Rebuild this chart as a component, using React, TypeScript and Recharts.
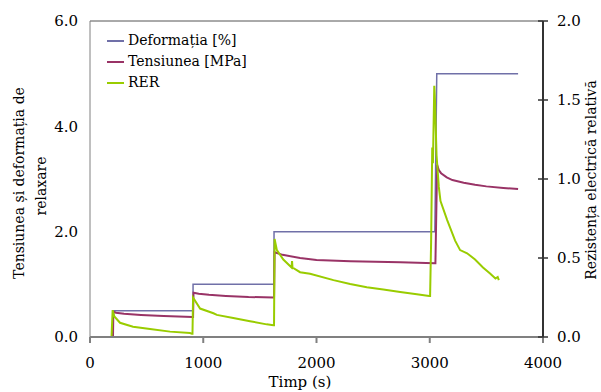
import React from "react"
import { LineChart, Line, XAxis, YAxis, ReferenceLine } from "recharts"

// time (s) / value pairs
const defTime = [0, 203, 203, 910, 910, 1625, 1625, 3045, 3062, 3780]
const defValue = [0, 0, 0.5, 0.5, 1.0, 1.0, 2.0, 2.0, 5.0, 5.0]

const tenTime = [
  0, 203, 206, 230, 300, 450, 650, 905,
  910, 914, 960, 1050, 1200, 1400, 1620,
  1625, 1630, 1700, 1855, 2000, 2300, 2740, 3045,
  3050, 3065, 3080, 3100, 3150, 3200, 3300, 3400, 3500, 3650, 3780,
]
const tenValue = [
  0, 0, 0.48, 0.46, 0.44, 0.42, 0.4, 0.38,
  0.38, 0.84, 0.82, 0.8, 0.78, 0.76, 0.75,
  0.75, 1.61, 1.56, 1.5, 1.46, 1.44, 1.42, 1.4,
  1.4, 3.27, 3.17, 3.11, 3.03, 2.98, 2.93, 2.89, 2.86, 2.83, 2.81,
]

const rerTime = [
  190, 200, 215, 265, 380, 530, 707, 883, 900,
  905, 910, 972, 1090, 1120, 1265, 1413, 1560, 1620,
  1625, 1630, 1650, 1707, 1780, 1784, 1788, 1855, 1943, 2150, 2297, 2444, 2590, 2739, 2886, 2995,
  3003, 3012, 3022, 3028, 3040, 3046, 3060, 3080, 3095, 3154, 3224, 3268, 3330, 3400, 3470, 3535, 3580, 3600, 3610,
]
const rerValue = [
  0, 0.17, 0.13, 0.09, 0.065, 0.05, 0.034, 0.025, 0.02,
  0.02, 0.25, 0.18, 0.15, 0.14, 0.12, 0.1, 0.08, 0.075,
  0.075, 0.62, 0.55, 0.49, 0.44, 0.48, 0.44, 0.41, 0.4, 0.36, 0.335, 0.315, 0.3, 0.285, 0.27, 0.26,
  0.26, 0.6, 1.2, 1.1, 1.59, 1.5, 1.15, 0.95, 0.86, 0.74, 0.61, 0.55, 0.53, 0.49, 0.44, 0.4, 0.37, 0.38, 0.36,
]

const xTicks = [0, 1000, 2000, 3000, 4000]
const leftTicks = [0, 2, 4, 6]
const rightTicks = [0, 0.5, 1, 1.5, 2]

const defData = defTime.map((t, i) => ({ t, v: defValue[i] }))
const tenData = tenTime.map((t, i) => ({ t, v: tenValue[i] }))
const rerData = rerTime.map((t, i) => ({ t, v: rerValue[i] }))

const font = "DejaVu Serif"

const legendItems = [
  { name: "Deformația [%]", color: "#7070a8" },
  { name: "Tensiunea [MPa]", color: "#993366" },
  { name: "RER", color: "#99cc00" },
]

function LegendBox() {
  return (
    <div
      style={{
        position: "absolute",
        left: 107,
        top: 30,
        fontFamily: font,
        fontSize: 14,
        color: "#000",
        lineHeight: "21px",
      }}
    >
      {legendItems.map((it) => (
        <div key={it.name} style={{ display: "flex", alignItems: "center", height: 21 }}>
          <span style={{ display: "inline-block", width: 17, height: 2, background: it.color, marginRight: 4 }} />
          <span>{it.name}</span>
        </div>
      ))}
    </div>
  )
}

function RightTick(props: any) {
  const { x, y, payload } = props
  return (
    <g>
      <line x1={x - 5} x2={x + 5} y1={y} y2={y} stroke="#333" strokeWidth={1.5} />
      <text x={x + 14} y={y} dy="0.355em" style={{ fontFamily: font }} fontSize={15} fill="#000">
        {Number(payload.value).toFixed(1)}
      </text>
    </g>
  )
}

function Titles() {
  return (
    <g style={{ fontFamily: font }} fontSize={14} fill="#000">
      <text x={24} y={183} textAnchor="middle" transform="rotate(-90 24 183)">
        Tensiunea și deformația de
      </text>
      <text x={46} y={186} textAnchor="middle" transform="rotate(-90 46 186)">
        relaxare
      </text>
      <text x={596} y={180} textAnchor="middle" transform="rotate(-90 596 180)">
        Rezistența electrică relativă
      </text>
      <text x={300} y={387} textAnchor="middle" fontSize={15}>
        Timp (s)
      </text>
    </g>
  )
}

export default function App() {
  return (
    <div style={{ position: "absolute", left: 0, top: 0, width: 601, height: 392, background: "#fff", fontFamily: font }}>
      <LineChart width={601} height={392} margin={{ top: 21, right: 8, bottom: 25, left: 40 }} style={{ fontFamily: font }}>
        <XAxis
          dataKey="t"
          type="number"
          domain={[0, 4000]}
          ticks={xTicks}
          tickSize={6}
          tickMargin={14}
          height={30}
          stroke="#808080"
          strokeWidth={2}
          tick={{ style: { fontFamily: font }, fontSize: 15, fill: "#000" }}
        />
        <YAxis
          yAxisId="left"
          domain={[0, 6]}
          ticks={leftTicks}
          width={50}
          tickLine={false}
          tickSize={0}
          tickMargin={12}
          stroke="#808080"
          tickFormatter={(v: number) => v.toFixed(1)}
          tick={{ style: { fontFamily: font }, fontSize: 15, fill: "#000" }}
        />
        <YAxis
          yAxisId="right"
          orientation="right"
          domain={[0, 2]}
          ticks={rightTicks}
          width={50}
          tickLine={false}
          tickSize={0}
          tickMargin={0}
          stroke="#333"
          strokeWidth={2}
          tick={<RightTick />}
        />
        <ReferenceLine yAxisId="left" y={6} stroke="#555" strokeWidth={1} />
        <Line
          yAxisId="left"
          data={defData}
          dataKey="v"
          name="Deformația [%]"
          stroke="#7070a8"
          strokeWidth={1.5}
          dot={false}
          isAnimationActive={false}
        />
        <Line
          yAxisId="left"
          data={tenData}
          dataKey="v"
          name="Tensiunea [MPa]"
          stroke="#993366"
          strokeWidth={2}
          dot={false}
          isAnimationActive={false}
        />
        <Line
          yAxisId="right"
          data={rerData}
          dataKey="v"
          name="RER"
          stroke="#99cc00"
          strokeWidth={2}
          dot={false}
          isAnimationActive={false}
        />
        <Titles />
      </LineChart>
      <LegendBox />
    </div>
  )
}
